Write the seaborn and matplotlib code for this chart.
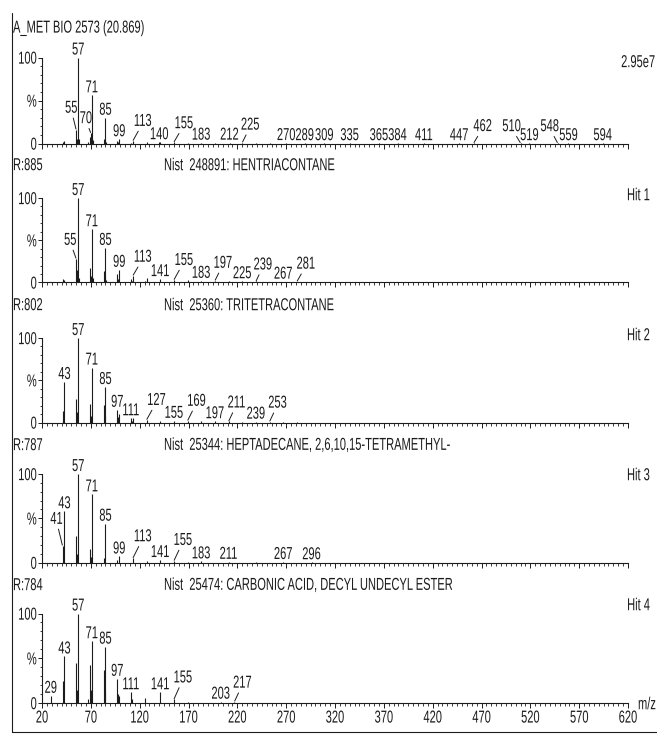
import matplotlib
matplotlib.use("Agg")
import matplotlib.pyplot as plt
import numpy as np
import pandas as pd
import seaborn as sns
from matplotlib.patheffects import AbstractPathEffect
from matplotlib.transforms import Affine2D

# ---------------- spectra (m/z, relative intensity %) ----------------
sample_mz = [41, 43, 55, 56, 57, 58, 67, 69, 70, 71, 72, 83, 84, 85, 86, 97, 98, 99, 111, 113,
             127, 140, 141, 155, 169, 183, 197, 212, 225, 239, 253, 270, 289, 309, 335, 365, 384,
             411, 447, 462, 510, 519, 548, 559, 594]
sample_int = [2, 3, 16, 5, 100, 5, 1.5, 8, 12, 56, 4, 5, 3, 30, 2, 3, 1.5, 5, 1, 3,
              2, 1.5, 1.5, 1.5, 1, 1, 0.8, 1, 1, 0.6, 0.5, 0.5, 0.4, 0.4, 0.4, 0.4, 0.4,
              0.4, 0.4, 0.5, 0.4, 0.4, 0.4, 0.4, 0.4]
sample_labels = [55, 57, 70, 71, 85, 99, 113, 140, 155, 183, 212, 225, 270, 289, 309, 335,
                 365, 384, 411, 447, 462, 510, 519, 548, 559, 594]

hit1_mz = [41, 43, 55, 56, 57, 58, 69, 70, 71, 72, 83, 84, 85, 86, 97, 98, 99, 111, 112, 113,
           125, 127, 141, 155, 169, 183, 197, 211, 225, 239, 253, 267, 281, 295, 309, 323, 337,
           351, 365, 379, 393, 407, 421, 436]
hit1_int = [4, 3, 28, 15, 100, 5, 17, 8, 63, 5, 14, 6, 41, 3, 10, 4, 15, 4, 2, 8,
            2, 5, 4, 3, 2.5, 2, 2, 1.5, 1.5, 1.2, 1, 1, 1, 0.8, 0.8, 0.6, 0.6,
            0.5, 0.5, 0.5, 0.5, 0.4, 0.4, 0.5]
hit1_labels = [55, 57, 71, 85, 99, 113, 141, 155, 183, 197, 225, 239, 267, 281]

hit2_mz = [41, 42, 43, 55, 56, 57, 69, 70, 71, 83, 84, 85, 97, 98, 99, 111, 112, 113, 127, 141,
           155, 169, 183, 197, 211, 225, 239, 253, 267, 281]
hit2_int = [14, 3, 48, 28, 12, 100, 22, 8, 65, 21, 8, 42, 15, 6, 10, 5, 2, 5, 3, 2,
            2, 2, 1.5, 1.5, 1.2, 1, 1, 1, 0.8, 0.6]
hit2_labels = [43, 57, 71, 85, 97, 111, 127, 155, 169, 197, 211, 239, 253]

hit3_mz = [41, 43, 55, 56, 57, 69, 70, 71, 83, 85, 97, 99, 113, 127, 141, 155, 169, 183, 211,
           239, 267, 296]
hit3_int = [19, 58, 30, 10, 100, 15, 6, 77, 5, 44, 3, 7, 5, 2, 3, 2, 1, 1.5, 1,
            0.6, 0.8, 0.5]
hit3_labels = [41, 43, 57, 71, 85, 99, 113, 141, 155, 183, 211, 267, 296]

hit4_mz = [29, 41, 43, 55, 56, 57, 67, 69, 70, 71, 83, 84, 85, 97, 98, 99, 111, 112, 125, 141,
           155, 169, 203, 217]
hit4_int = [8, 25, 52, 45, 15, 100, 4, 42, 15, 69, 37, 13, 63, 27, 10, 8, 12, 4, 6, 12,
            4, 1, 1.5, 1.5]
hit4_labels = [29, 43, 57, 71, 85, 97, 111, 141, 155, 203, 217]

left_titles = ["A_MET BIO 2573 (20.869)", "R:885", "R:802", "R:787", "R:784"]
nist_titles = ["", "Nist  248891: HENTRIACONTANE", "Nist  25360: TRITETRACONTANE",
               "Nist  25344: HEPTADECANE, 2,6,10,15-TETRAMETHYL-",
               "Nist  25474: CARBONIC ACID, DECYL UNDECYL ESTER"]
right_titles = ["2.95e7", "Hit 1", "Hit 2", "Hit 3", "Hit 4"]

xtick_values = [20, 70, 120, 170, 220, 270, 320, 370, 420, 470, 520, 570, 620]
ytick_values = [0, 50, 100]
ytick_labels = ["0", "%", "100"]

spectra = [
    (sample_mz, sample_int, sample_labels),
    (hit1_mz, hit1_int, hit1_labels),
    (hit2_mz, hit2_int, hit2_labels),
    (hit3_mz, hit3_int, hit3_labels),
    (hit4_mz, hit4_int, hit4_labels),
]

# ---------------- layout (pixels) ----------------
W, H = 657, 738
X0, X1 = 42, 628
PANEL_BASE = [143.5, 282.5, 422.5, 562.7, 703.0]
PANEL_TOP = [57.5, 198.0, 338.0, 474.0, 613.5]
HEADER_Y = [28, 165, 305, 445, 585]
RIGHT_Y = [62, 195, 335, 475, 605]

# shifted labels joined to their peak by a short leader (dx, dy in px)
LEADERS = [
    {55: (-5, 17), 70: (-5, 10), 113: (10, 15), 155: (10, 14), 225: (8, 13),
     462: (9, 12), 510: (-9, 12), 548: (-8, 12)},
    {55: (-6, 14), 113: (10, 14), 155: (10, 15), 197: (8, 13), 239: (7, 12), 281: (9, 13)},
    {127: (10, 15), 169: (9, 15), 211: (8, 14), 253: (8, 14)},
    {41: (-6, 22), 113: (10, 17), 155: (9, 16)},
    {155: (9, 17), 217: (8, 14)},
]

INK = "#1c1c1c"
FS = 8.0          # nominal size; glyphs are drawn tall and narrow
TALL = 1.56       # vertical stretch of the glyphs


class Tall(AbstractPathEffect):
    """Draw glyphs stretched vertically about the baseline, centre or top."""

    def __init__(self, sy, pivot):
        super().__init__()
        self._sy = sy
        self._pivot = pivot

    def draw_path(self, renderer, gc, tpath, affine, rgbFace=None):
        if len(tpath.vertices) == 0:
            return
        ext = tpath.get_extents(affine)
        if not np.all(np.isfinite([ext.y0, ext.y1])):
            renderer.draw_path(gc, tpath, affine, rgbFace)
            return
        if self._pivot == "baseline":
            py = affine.transform(np.array([[0.0, 0.0]]))[0][1]
        elif self._pivot == "top":
            py = ext.y1
        else:
            py = 0.5 * (ext.y0 + ext.y1)
        tall = affine + Affine2D().translate(0, -py).scale(1, self._sy).translate(0, py)
        renderer.draw_path(gc, tpath, tall, rgbFace)


PE_BASE = [Tall(TALL, "baseline")]
PE_MID = [Tall(TALL, "center")]
PE_TOP = [Tall(TALL, "top")]

sns.set_theme(style="white")
plt.rcParams["font.family"] = ["Liberation Sans", "DejaVu Sans"]
plt.rcParams["axes.linewidth"] = 0.8

frames = []
for i, (mz, inten, _) in enumerate(spectra):
    frames.append(pd.DataFrame({"panel": i, "mz": mz, "intensity": inten}))
df = pd.concat(frames, ignore_index=True)


def draw_sticks(data, color=None, **kws):
    ax = plt.gca()
    ax.vlines(data["mz"], 0, data["intensity"], colors=INK, lw=0.8, clip_on=False)


g = sns.FacetGrid(df, row="panel", height=1.4, aspect=4.7, sharex=True, sharey=True,
                  despine=False)
g.map_dataframe(draw_sticks)
g.set_titles(template="")
g.set_axis_labels("", "")
fig = g.figure
fig.set_size_inches(W / 100, H / 100)
fig.patch.set_facecolor("white")

axes = list(g.axes.flat)
for i, ax in enumerate(axes):
    base, top = PANEL_BASE[i], PANEL_TOP[i]
    ax.set_position([X0 / W, 1 - base / H, (X1 - X0) / W, (base - top) / H])
    ax.set_xlim(20, 620)
    ax.set_ylim(0, 100)
    ax.set_facecolor("none")
    for side in ("top", "right"):
        ax.spines[side].set_visible(False)
    for side in ("left", "bottom"):
        ax.spines[side].set_color(INK)
        ax.spines[side].set_linewidth(0.8)
    ax.set_yticks(ytick_values)
    ax.set_yticklabels(ytick_labels)
    ax.set_yticks(np.arange(0, 101, 10), minor=True)
    ax.set_xticks(xtick_values)
    ax.set_xticklabels([str(v) for v in xtick_values])
    ax.set_xticks(np.arange(20, 621, 5), minor=True)
    ax.tick_params(axis="y", which="major", direction="out", length=3.0, width=0.7,
                   color=INK, pad=0.8, labelsize=FS, labelcolor=INK, left=True)
    ax.tick_params(axis="y", which="minor", direction="out", length=1.8, width=0.6,
                   color=INK, left=True)
    ax.tick_params(axis="x", which="major", direction="out", length=3.6, width=0.7,
                   color=INK, pad=1.6, labelsize=FS, labelcolor=INK, bottom=True)
    ax.tick_params(axis="x", which="minor", direction="out", length=2.2, width=0.6,
                   color=INK, bottom=True)
    ax.tick_params(axis="x", which="major", labelbottom=(i == len(axes) - 1))
    ax.grid(False)
    for t in ax.yaxis.get_major_ticks():
        t.label1.set_path_effects(PE_MID)
    for t in ax.xaxis.get_major_ticks():
        t.label1.set_path_effects(PE_TOP)

    mz, inten, labels = spectra[i]
    height = dict(zip(mz, inten))
    for m in labels:
        h = height[m]
        if m in LEADERS[i]:
            dx, dy = LEADERS[i][m]
            ax.annotate(str(m), xy=(m, h), xytext=(dx, dy), textcoords="offset pixels",
                        ha="center", va="baseline", fontsize=FS, color=INK,
                        annotation_clip=False, path_effects=PE_BASE,
                        arrowprops=dict(arrowstyle="-", lw=0.7, color=INK,
                                        shrinkA=0, shrinkB=0.5))
        else:
            ax.annotate(str(m), xy=(m, h), xytext=(0, 3), textcoords="offset pixels",
                        ha="center", va="baseline", fontsize=FS, color=INK,
                        annotation_clip=False, path_effects=PE_BASE)

    fig.text(13 / W, 1 - HEADER_Y[i] / H, left_titles[i], ha="left", va="center",
             fontsize=FS, color=INK, path_effects=PE_MID)
    if nist_titles[i]:
        fig.text(164 / W, 1 - HEADER_Y[i] / H, nist_titles[i], ha="left", va="center",
                 fontsize=FS, color=INK, path_effects=PE_MID)
    fig.text((655 if i == 0 else 650) / W, 1 - RIGHT_Y[i] / H, right_titles[i],
             ha="right", va="center", fontsize=FS, color=INK, path_effects=PE_MID)

# axis unit at the end of the bottom scale
fig.text(638 / W, 1 - 704 / H, "m/z", ha="left", va="center", fontsize=FS, color=INK,
         path_effects=PE_MID)

# surrounding frame: left rule and bottom rule
fig.add_artist(plt.Line2D([11.5 / W, 11.5 / W], [1 - 13 / H, 1 - 732 / H],
                          color=INK, lw=0.8, transform=fig.transFigure))
fig.add_artist(plt.Line2D([11.5 / W, 1.0], [1 - 732 / H, 1 - 732 / H],
                          color=INK, lw=0.8, transform=fig.transFigure))

fig.savefig("out.png", dpi=100, facecolor="white")
